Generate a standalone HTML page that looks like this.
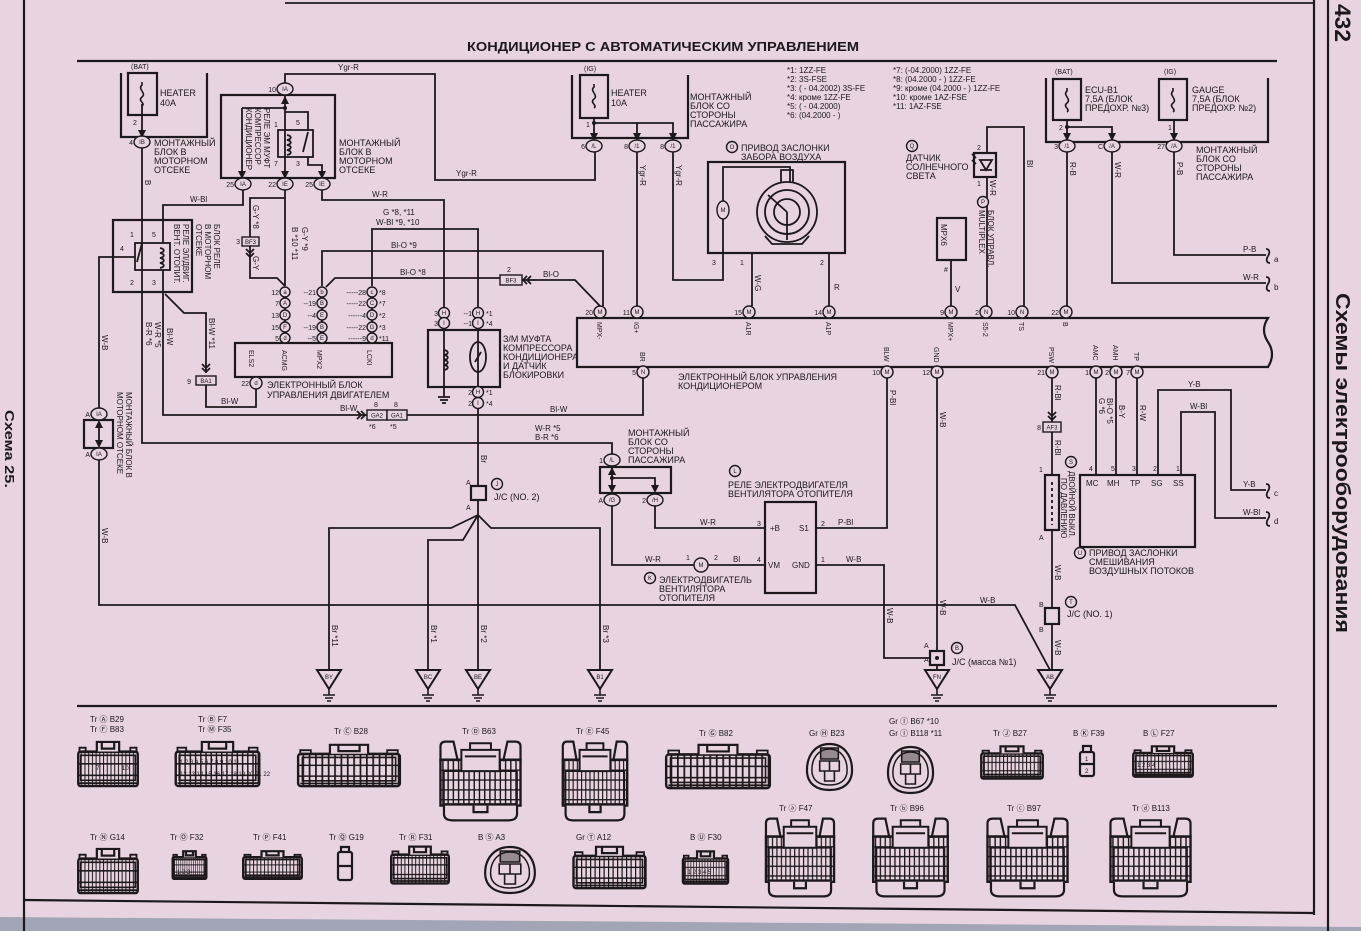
<!DOCTYPE html>
<html><head><meta charset="utf-8">
<style>
html,body{margin:0;padding:0;background:#e8d4e1;}
svg{display:block}
text{font-family:"Liberation Sans","DejaVu Sans",sans-serif;fill:#1d181c}
.f{font-size:9px}
.g{font-size:8px}
.h{font-size:7px}
.k{font-size:6px}
.tb{font-size:13px;font-weight:bold}
.L{stroke:#1d181c;stroke-width:1.8;fill:none}
.B{stroke:#1d181c;stroke-width:2.2;fill:none}
.o{stroke:#1d181c;stroke-width:1.4;fill:#e8d4e1}
.i{fill:#1d181c}
</style></head><body>
<svg width="1361" height="931" viewBox="0 0 1361 931" xmlns="http://www.w3.org/2000/svg">
<defs>
<pattern id="cl" patternUnits="userSpaceOnUse" width="6" height="12"><path d="M0.8,0V12M0,0.8H6" stroke="#1d181c" stroke-width="1.7" fill="none"/></pattern>
<g id="rc">
<rect x="2" y="12" width="96" height="36" rx="3" fill="url(#cl)" stroke="#1d181c" stroke-width="2.4" vector-effect="non-scaling-stroke"/>
<rect x="6" y="16" width="88" height="26" fill="none" stroke="#1d181c" stroke-width="1.6" vector-effect="non-scaling-stroke"/>
<path d="M32,12V2H68V12M40,2V9H60V2" fill="#e8d4e1" stroke="#1d181c" stroke-width="2.2" vector-effect="non-scaling-stroke"/>
<path d="M4,45H96M4,12V8H14V12M86,12V8H96V12" fill="none" stroke="#1d181c" stroke-width="1.8" vector-effect="non-scaling-stroke"/>
</g>
<g id="bc">
<path d="M4,26V8Q4,2 10,2H19L24,26M96,26V8Q96,2 90,2H81L76,26" fill="#e8d4e1" stroke="#1d181c" stroke-width="2.2" vector-effect="non-scaling-stroke"/>
<rect x="4" y="24" width="92" height="56" fill="url(#cl)" stroke="#1d181c" stroke-width="2.4" vector-effect="non-scaling-stroke"/>
<rect x="8" y="38" width="84" height="40" fill="none" stroke="#1d181c" stroke-width="1.6" vector-effect="non-scaling-stroke"/>
<path d="M28,38V12H72V38ZM38,12V4H62V12M32,20H68" fill="#e8d4e1" stroke="#1d181c" stroke-width="2" vector-effect="non-scaling-stroke"/>
<path d="M8,80V90Q8,98 18,98H82Q92,98 92,90V80M42,80V88H58V80" fill="#e8d4e1" stroke="#1d181c" stroke-width="2.2" vector-effect="non-scaling-stroke"/>
</g>
<g id="ov">
<path d="M25,2C40,2 48,14 48,28C48,42 38,48 25,48C12,48 2,42 2,28C2,14 10,2 25,2Z" fill="none" stroke="#1d181c" stroke-width="2.2" vector-effect="non-scaling-stroke"/>
<path d="M25,7C36,7 43,16 43,28C43,39 35,43 25,43C15,43 7,39 7,28C7,16 14,7 25,7Z" fill="none" stroke="#1d181c" stroke-width="1.5" vector-effect="non-scaling-stroke"/>
<rect x="16" y="6" width="18" height="11" fill="#1d181c" fill-opacity="0.4" stroke="#1d181c" stroke-width="1.6" vector-effect="non-scaling-stroke"/>
<path d="M15,19H35V29H15ZM25,19V29M20,29V39H30V29" fill="none" stroke="#1d181c" stroke-width="1.6" vector-effect="non-scaling-stroke"/>
</g>
<g id="gnd">
<polygon points="-12,0 12,0 0,19" fill="#e8d4e1" stroke="#1d181c" stroke-width="2"/>
<path d="M0,19V25M-6,25H6M-4,28H4M-2,31H2" stroke="#1d181c" stroke-width="1.6" fill="none"/>
</g>
<polygon id="ar" points="-4,-7 4,-7 0,1" fill="#1d181c"/>
<path id="fs" d="M0,-12V-9C-5,-5 5,-1 0,3C-5,7 4,9 0,12" fill="none" stroke="#1d181c" stroke-width="1.6"/>
</defs>

<rect width="1361" height="931" fill="#e8d4e1"/>
<polygon points="0,917 1361,927 1361,931 0,931" fill="#a2a5b6"/>

<!-- frame -->
<path d="M24,0V931M1314,0V915M1328,0V931" class="B"/>
<path d="M285,3H1314" class="L"/>
<path d="M77,61H1277" class="B"/>
<path d="M77,706H1277" class="B"/>
<path d="M24,900L1314,913" class="B"/>

<text x="663" y="51" class="tb" text-anchor="middle" textLength="392" lengthAdjust="spacingAndGlyphs">КОНДИЦИОНЕР С АВТОМАТИЧЕСКИМ УПРАВЛЕНИЕМ</text>
<text transform="translate(1335,4) rotate(90)" style="font-size:22px;font-weight:bold" textLength="38" lengthAdjust="spacingAndGlyphs">432</text>
<text transform="translate(1336,293) rotate(90)" style="font-size:20px;font-weight:bold" textLength="340" lengthAdjust="spacingAndGlyphs">Схемы электрооборудования</text>
<text transform="translate(5,410) rotate(90)" style="font-size:13px;font-weight:bold" textLength="78" lengthAdjust="spacingAndGlyphs">Схема 25.</text>

<!-- ============ WIRES ============ -->
<g class="L">
<path d="M142,104V136"/>
<path d="M142,148V443H612V454"/>
<path d="M243,190V205H163V243"/>
<path d="M163,270V415H367"/>
<path d="M407,415H643V378"/>
<path d="M165,294L184,313H206V373"/>
<path d="M206,385V407H256V389"/>
<path d="M135,257H99V408"/>
<path d="M99,460V605H1015L1050,670"/>
<path d="M285,83V74H435V180H595V152"/>
<path d="M285,95V178M285,190V286"/>
<path d="M242,108H285M242,108V173M285,112H308V130M308,157V165H322V173"/>
<path d="M285,198H250V237M250,246V278H277L285,286"/>
<path d="M322,190V200H444V307"/>
<path d="M372,286V229H478V307"/>
<path d="M322,286V251H603V306"/>
<path d="M326,287L335,278H500M522,280H575L600,306"/>
<path d="M285,292V343M322,292V343M372,292V343"/>
<path d="M444,313V397M478,313V486M478,500V670"/>
<path d="M478,515L451,528H329V670"/>
<path d="M478,515L463,540H428V670"/>
<path d="M478,515L491,528H600V670"/>
<path d="M612,466V491M612,478H655V491"/>
<path d="M655,506V528H765M612,506V565H694M708,565H765"/>
<path d="M816,528H887V378M816,565H884V658H930"/>
<path d="M937,378V651M937,665V670"/>
<path d="M1052,378V422M1052,432V475M1052,530V608M1052,624V670"/>
<path d="M1096,378V475M1116,378V475M1137,378V475"/>
<path d="M1158,475V390H1231V490H1266M1181,475V412H1215V518H1266"/>
<path d="M594,118V136M594,123H673V136M637,123V136"/>
<path d="M637,152V306M673,152V280H723V219"/>
<path d="M752,253V306M829,253V306"/>
<path d="M987,153V127H1024V306M987,177V306M951,260V306"/>
<path d="M1067,120V136M1067,127H1112V136M1174,120V136"/>
<path d="M1067,152V306M1112,152V283H1266M1174,152V255H1266"/>
<path d="M1266,249c4,0 4,4 2,7s-2,7 2,7M1266,277c4,0 4,4 2,7s-2,7 2,7M1266,484c4,0 4,4 2,7s-2,7 2,7M1266,512c4,0 4,4 2,7s-2,7 2,7"/>
</g>

<!-- ============ BOXES ============ -->
<g class="B">
<path d="M121,73V137H207V73"/>
<rect x="128" y="73" width="29" height="42"/>
<rect x="221" y="95" width="114" height="83"/>
<rect x="113" y="220" width="79" height="72"/>
<rect x="235" y="343" width="157" height="34"/>
<rect x="428" y="330" width="72" height="57"/>
<rect x="84" y="420" width="29" height="28"/>
<rect x="600" y="467" width="71" height="26"/>
<rect x="765" y="502" width="51" height="91"/>
<path d="M577,318H1268q-8,12 0,24q8,12 0,25H577Z"/>
<path d="M572,75V138H688V75"/>
<rect x="580" y="75" width="28" height="43"/>
<rect x="708" y="162" width="137" height="91"/>
<rect x="937" y="218" width="29" height="42"/>
<rect x="974" y="153" width="22" height="24"/>
<path d="M1046,78V142H1268V78"/>
<rect x="1053" y="79" width="28" height="41"/>
<rect x="1159" y="79" width="28" height="41"/>
<rect x="1045" y="475" width="14" height="55"/>
<rect x="1080" y="475" width="115" height="72"/>
<rect x="471" y="486" width="15" height="14"/>
<rect x="930" y="651" width="14" height="14"/>
<rect x="1045" y="608" width="14" height="16"/>
</g>
<g class="L">
<rect x="278" y="130" width="35" height="27"/>
<rect x="135" y="243" width="35" height="27"/>
<path d="M142,243L137,262M308,132L303,152"/>
<path d="M160,248c5,1 5,4 0,5c5,1 5,4 0,5c5,1 5,4 0,5c5,1 5,4 0,5"/>
<path d="M287,135c5,1 5,4 0,5c5,1 5,4 0,5c5,1 5,4 0,5c5,1 5,4 0,5"/>
<path d="M444,350c5,1 5,4 0,5c5,1 5,4 0,5c5,1 5,4 0,5c5,1 5,4 0,5"/>
<ellipse cx="478" cy="357" rx="8" ry="15"/>
<path d="M475,362L481,352"/>
<path d="M438,397H450M440,400H448M442,403H446"/>
<path d="M99,428V440"/>
<path d="M723,201V167H790V182"/>
<circle cx="787" cy="212" r="30"/><circle cx="787" cy="212" r="22"/><circle cx="787" cy="212" r="13"/>
<path d="M787,212L768,195M787,212V240M781,182V170H793V182M765,236L772,244H802L809,236"/>
<path d="M1052,482V525" stroke-dasharray="3,3"/>
<path d="M980,160L992,160L986,170ZM980,170H992M976,158l-4,-4M976,164l-4,-4"/>
</g>
<ellipse cx="723" cy="210" rx="6" ry="9" class="o"/>
<text x="723" y="212" class="k" text-anchor="middle">M</text>
<circle cx="701" cy="565" r="7" class="o"/>
<text x="701" y="567" class="k" text-anchor="middle">M</text>
<circle cx="937" cy="658" r="2" class="i"/>
<use href="#fs" x="142" y="94"/>
<use href="#fs" x="594" y="96"/>
<use href="#fs" x="1067" y="100"/>
<use href="#fs" x="1173" y="100"/>
<circle cx="594" cy="123" r="2" class="i"/>
<circle cx="1067" cy="127" r="2" class="i"/>
<circle cx="285" cy="108" r="2" class="i"/>
<circle cx="612" cy="478" r="2" class="i"/>

<!-- arrows -->
<use href="#ar" x="142" y="137"/>
<use href="#ar" x="594" y="140"/>
<use href="#ar" x="637" y="140"/>
<use href="#ar" x="673" y="140"/>
<use href="#ar" x="1067" y="140"/>
<use href="#ar" x="1112" y="140"/>
<use href="#ar" x="1174" y="140"/>
<use href="#ar" x="242" y="178"/>
<use href="#ar" x="285" y="178"/>
<use href="#ar" x="322" y="178"/>
<use href="#ar" x="612" y="492"/>
<use href="#ar" x="655" y="492"/>
<use href="#ar" x="99" y="447"/>
<polygon points="281,104 289,104 285,96" class="i"/>
<polygon points="608,475 616,475 612,467" class="i"/>
<polygon points="95,428 103,428 99,420" class="i"/>
<!-- chevrons -->
<g class="L" stroke-width="1.3">
<path d="M246,249l4,4l4,-4M246,253l4,4l4,-4"/>
<path d="M527,276l-4,4l4,4M531,276l-4,4l4,4"/>
<path d="M202,368l4,4l4,-4M202,364l4,4l4,-4"/>
<path d="M357,411l4,4l-4,4M361,411l4,4l-4,4"/>
<path d="M1048,412l4,4l4,-4M1048,416l4,4l4,-4"/>
</g>

<!-- grounds -->
<use href="#gnd" x="329" y="670"/>
<use href="#gnd" x="428" y="670"/>
<use href="#gnd" x="478" y="670"/>
<use href="#gnd" x="600" y="670"/>
<use href="#gnd" x="937" y="670"/>
<use href="#gnd" x="1050" y="670"/>
<g class="k" text-anchor="middle">
<text x="329" y="679">BY</text><text x="428" y="679">BC</text><text x="478" y="679">BE</text>
<text x="600" y="679">B1</text><text x="937" y="679">FN</text><text x="1050" y="679">AB</text>
</g>

<!-- small connector boxes -->
<g class="o" stroke-width="1.6">
<rect x="242" y="237" width="17" height="9"/>
<rect x="500" y="275" width="22" height="10"/>
<rect x="196" y="376" width="20" height="9"/>
<rect x="367" y="410" width="20" height="10"/>
<rect x="387" y="410" width="20" height="10"/>
<rect x="1043" y="422" width="18" height="10"/>
</g>
<g class="k" text-anchor="middle">
<text x="250.5" y="244">BF3</text><text x="511" y="282.5">BF3</text><text x="206" y="383">BA1</text>
<text x="377" y="417.5">GA2</text><text x="397" y="417.5">GA1</text><text x="1052" y="429.5">AF3</text>
</g>

<!-- wire ovals -->
<g class="o">
<ellipse cx="142" cy="142" rx="8" ry="6"/>
<ellipse cx="285" cy="89" rx="8" ry="6"/>
<ellipse cx="243" cy="184" rx="8" ry="6"/>
<ellipse cx="285" cy="184" rx="8" ry="6"/>
<ellipse cx="322" cy="184" rx="8" ry="6"/>
<ellipse cx="99" cy="414" rx="8" ry="6"/>
<ellipse cx="99" cy="454" rx="8" ry="6"/>
<ellipse cx="256" cy="383" rx="6" ry="6"/>
<ellipse cx="612" cy="460" rx="8" ry="6"/>
<ellipse cx="612" cy="500" rx="8" ry="6"/>
<ellipse cx="655" cy="500" rx="8" ry="6"/>
<ellipse cx="594" cy="146" rx="8" ry="6"/>
<ellipse cx="637" cy="146" rx="8" ry="6"/>
<ellipse cx="673" cy="146" rx="8" ry="6"/>
<ellipse cx="1067" cy="146" rx="8" ry="6"/>
<ellipse cx="1112" cy="146" rx="8" ry="6"/>
<ellipse cx="1174" cy="146" rx="8" ry="6"/>
<circle cx="444" cy="313" r="5.5"/><circle cx="478" cy="313" r="5.5"/>
<circle cx="444" cy="323" r="5.5"/><circle cx="478" cy="323" r="5.5"/>
<circle cx="478" cy="392" r="5.5"/><circle cx="478" cy="403" r="5.5"/>
<circle cx="600" cy="312" r="6"/><circle cx="637" cy="312" r="6"/><circle cx="749" cy="312" r="6"/><circle cx="829" cy="312" r="6"/>
<circle cx="951" cy="312" r="6"/><circle cx="986" cy="312" r="6"/><circle cx="1022" cy="312" r="6"/><circle cx="1066" cy="312" r="6"/>
<circle cx="643" cy="372" r="6"/><circle cx="887" cy="372" r="6"/><circle cx="937" cy="372" r="6"/><circle cx="1052" cy="372" r="6"/>
<circle cx="1096" cy="372" r="6"/><circle cx="1116" cy="372" r="6"/><circle cx="1137" cy="372" r="6"/>
</g>
<g class="k" text-anchor="middle">
<text x="142" y="144">IB</text><text x="285" y="91">IA</text><text x="243" y="186">IA</text><text x="285" y="186">IE</text><text x="322" y="186">IE</text>
<text x="99" y="416">IA</text><text x="99" y="456">IA</text><text x="256" y="385">d</text>
<text x="612" y="462">/L</text><text x="612" y="502">/G</text><text x="655" y="502">/H</text>
<text x="594" y="148">/L</text><text x="637" y="148">/1</text><text x="673" y="148">/1</text>
<text x="1067" y="148">/1</text><text x="1112" y="148">/A</text><text x="1174" y="148">/A</text>
<text x="444" y="315">H</text><text x="478" y="315">H</text><text x="444" y="325">I</text><text x="478" y="325">I</text>
<text x="478" y="394">H</text><text x="478" y="405">I</text>
<text x="600" y="314">M</text><text x="637" y="314">M</text><text x="749" y="314">M</text><text x="829" y="314">M</text>
<text x="951" y="314">M</text><text x="986" y="314">N</text><text x="1022" y="314">N</text><text x="1066" y="314">M</text>
<text x="643" y="374">N</text><text x="887" y="374">M</text><text x="937" y="374">M</text><text x="1052" y="374">M</text>
<text x="1096" y="374">M</text><text x="1116" y="374">M</text><text x="1137" y="374">M</text>
</g>
<g class="h" text-anchor="end">
<text x="133" y="145">4</text><text x="276" y="92">10</text><text x="234" y="187">25</text><text x="276" y="187">22</text><text x="313" y="187">25</text>
<text x="90" y="417">A</text><text x="90" y="457">A</text><text x="249" y="386">22</text>
<text x="603" y="463">1</text><text x="603" y="503">A</text><text x="646" y="503">2</text>
<text x="585" y="149">6</text><text x="628" y="149">8</text><text x="664" y="149">8</text>
<text x="1058" y="149">3</text><text x="1103" y="149">C</text><text x="1165" y="149">27</text>
<text x="593" y="315">20</text><text x="630" y="315">11</text><text x="742" y="315">15</text><text x="822" y="315">14</text>
<text x="944" y="315">9</text><text x="979" y="315">2</text><text x="1015" y="315">10</text><text x="1059" y="315">22</text>
<text x="636" y="375">5</text><text x="880" y="375">10</text><text x="930" y="375">12</text><text x="1045" y="375">21</text>
<text x="1089" y="375">1</text><text x="1109" y="375">2</text><text x="1130" y="375">7</text>
<text x="438" y="316">3</text><text x="472" y="316">--1</text><text x="438" y="326">3</text><text x="472" y="326">--1</text>
<text x="472" y="395">2</text><text x="472" y="406">2</text>
<text x="240" y="244">3</text><text x="191" y="384">9</text><text x="1041" y="430">8</text>
</g>
<g class="h">
<text x="486" y="316">*1</text><text x="486" y="326">*4</text><text x="486" y="395">*1</text><text x="486" y="406">*4</text>
<text x="507" y="272">2</text><text x="374" y="407">8</text><text x="394" y="407">8</text><text x="369" y="429">*6</text><text x="390" y="429">*5</text>
</g>

<!-- table rows -->
<g class="o">
<circle cx="285" cy="292" r="5"/><circle cx="322" cy="292" r="5"/><circle cx="372" cy="292" r="5"/>
<circle cx="285" cy="303" r="5"/><circle cx="322" cy="303" r="5"/><circle cx="372" cy="303" r="5"/>
<circle cx="285" cy="315" r="5"/><circle cx="322" cy="315" r="5"/><circle cx="372" cy="315" r="5"/>
<circle cx="285" cy="327" r="5"/><circle cx="322" cy="327" r="5"/><circle cx="372" cy="327" r="5"/>
<circle cx="285" cy="338" r="5"/><circle cx="322" cy="338" r="5"/><circle cx="372" cy="338" r="5"/>
</g>
<g class="k" text-anchor="middle">
<text x="285" y="294">a</text><text x="322" y="294">b</text><text x="372" y="294">c</text>
<text x="285" y="305">A</text><text x="322" y="305">B</text><text x="372" y="305">C</text>
<text x="285" y="317">D</text><text x="322" y="317">E</text><text x="372" y="317">D</text>
<text x="285" y="329">F</text><text x="322" y="329">B</text><text x="372" y="329">G</text>
<text x="285" y="340">d</text><text x="322" y="340">E</text><text x="372" y="340">d</text>
</g>
<g class="h" text-anchor="end">
<text x="279" y="295">12</text><text x="316" y="295">--21</text><text x="366" y="295">-----28</text>
<text x="279" y="306">7</text><text x="316" y="306">--19</text><text x="366" y="306">-----22</text>
<text x="279" y="318">13</text><text x="316" y="318">--4</text><text x="366" y="318">------4</text>
<text x="279" y="330">15</text><text x="316" y="330">--19</text><text x="366" y="330">-----22</text>
<text x="279" y="341">5</text><text x="316" y="341">--5</text><text x="366" y="341">------9</text>
</g>
<g class="h">
<text x="379" y="295">*8</text><text x="379" y="306">*7</text><text x="379" y="318">*2</text><text x="379" y="330">*3</text><text x="379" y="341">*11</text>
</g>

<!-- component circles -->
<g class="o">
<circle cx="497" cy="484" r="5.5"/><circle cx="735" cy="471" r="5.5"/><circle cx="650" cy="578" r="5.5"/>
<circle cx="957" cy="648" r="5.5"/><circle cx="1071" cy="602" r="5.5"/><circle cx="1080" cy="553" r="5.5"/>
<circle cx="732" cy="147" r="5.5"/><circle cx="912" cy="146" r="5.5"/><circle cx="983" cy="202" r="5.5"/>
<circle cx="1071" cy="462" r="5.5"/>
</g>
<g class="k" text-anchor="middle">
<text x="497" y="486">J</text><text x="735" y="473">L</text><text x="650" y="580">K</text>
<text x="957" y="650">B</text><text x="1071" y="604">T</text><text x="1080" y="555">U</text>
<text x="732" y="149">O</text><text x="912" y="148">Q</text><text x="983" y="204">P</text><text x="1071" y="464">S</text>
</g>

<!-- labels -->
<g class="h">
<text x="131" y="69">(BAT)</text><text x="584" y="71">(IG)</text><text x="1055" y="74">(BAT)</text><text x="1164" y="74">(IG)</text>
<text x="133" y="125">2</text><text x="586" y="127">1</text><text x="1059" y="130">2</text><text x="1168" y="130">1</text>
<text x="274" y="127">1</text><text x="296" y="125">5</text><text x="274" y="166">7</text><text x="296" y="166">3</text>
<text x="130" y="237">1</text><text x="152" y="237">5</text><text x="120" y="251">4</text><text x="130" y="285">2</text><text x="152" y="285">3</text>
<text x="712" y="265">3</text><text x="740" y="265">1</text><text x="820" y="265">2</text>
<text x="977" y="150">2</text><text x="977" y="186">1</text><text x="944" y="272">#</text>
<text x="757" y="526">3</text><text x="757" y="562">4</text><text x="821" y="526">2</text><text x="821" y="562">1</text>
<text x="686" y="560">1</text><text x="714" y="560">2</text>
<text x="466" y="485">A</text><text x="466" y="510">A</text>
<text x="924" y="648">A</text><text x="924" y="662">A</text>
<text x="1039" y="472">1</text><text x="1039" y="540">A</text><text x="1039" y="607">B</text><text x="1039" y="632">B</text>
<text x="1089" y="471">4</text><text x="1111" y="471">5</text><text x="1132" y="471">3</text><text x="1153" y="471">2</text><text x="1176" y="471">1</text>
</g>
<g class="g">
<text x="770" y="531">+B</text><text x="799" y="531">S1</text><text x="768" y="568">VM</text><text x="792" y="568">GND</text>
<text x="1086" y="486">MC</text><text x="1107" y="486">MH</text><text x="1130" y="486">TP</text><text x="1151" y="486">SG</text><text x="1173" y="486">SS</text>
</g>
<g class="f">
<text x="160" y="96">HEATER</text><text x="160" y="106">40A</text>
<text x="611" y="96">HEATER</text><text x="611" y="106">10A</text>
<text x="1085" y="93">ECU-B1</text><text x="1085" y="102">7,5A (БЛОК</text><text x="1085" y="111">ПРЕДОХР. №3)</text>
<text x="1192" y="93">GAUGE</text><text x="1192" y="102">7,5A (БЛОК</text><text x="1192" y="111">ПРЕДОХР. №2)</text>
<text x="154" y="146">МОНТАЖНЫЙ</text><text x="154" y="155">БЛОК В</text><text x="154" y="164">МОТОРНОМ</text><text x="154" y="173">ОТСЕКЕ</text>
<text x="339" y="146">МОНТАЖНЫЙ</text><text x="339" y="155">БЛОК В</text><text x="339" y="164">МОТОРНОМ</text><text x="339" y="173">ОТСЕКЕ</text>
<text x="690" y="100">МОНТАЖНЫЙ</text><text x="690" y="109">БЛОК СО</text><text x="690" y="118">СТОРОНЫ</text><text x="690" y="127">ПАССАЖИРА</text>
<text x="1196" y="153">МОНТАЖНЫЙ</text><text x="1196" y="162">БЛОК СО</text><text x="1196" y="171">СТОРОНЫ</text><text x="1196" y="180">ПАССАЖИРА</text>
<text x="628" y="436">МОНТАЖНЫЙ</text><text x="628" y="445">БЛОК СО</text><text x="628" y="454">СТОРОНЫ</text><text x="628" y="463">ПАССАЖИРА</text>
<text x="741" y="151">ПРИВОД ЗАСЛОНКИ</text><text x="741" y="160">ЗАБОРА ВОЗДУХА</text>
<text x="906" y="161">ДАТЧИК</text><text x="906" y="170">СОЛНЕЧНОГО</text><text x="906" y="179">СВЕТА</text>
<text x="503" y="342">З/М МУФТА</text><text x="503" y="351">КОМПРЕССОРА</text><text x="503" y="360">КОНДИЦИОНЕРА</text><text x="503" y="369">И ДАТЧИК</text><text x="503" y="378">БЛОКИРОВКИ</text>
<text x="267" y="388">ЭЛЕКТРОННЫЙ БЛОК</text><text x="267" y="398">УПРАВЛЕНИЯ ДВИГАТЕЛЕМ</text>
<text x="678" y="380">ЭЛЕКТРОННЫЙ БЛОК УПРАВЛЕНИЯ</text><text x="678" y="389">КОНДИЦИОНЕРОМ</text>
<text x="728" y="488">РЕЛЕ ЭЛЕКТРОДВИГАТЕЛЯ</text><text x="728" y="497">ВЕНТИЛЯТОРА ОТОПИТЕЛЯ</text>
<text x="659" y="583">ЭЛЕКТРОДВИГАТЕЛЬ</text><text x="659" y="592">ВЕНТИЛЯТОРА</text><text x="659" y="601">ОТОПИТЕЛЯ</text>
<text x="1089" y="556">ПРИВОД ЗАСЛОНКИ</text><text x="1089" y="565">СМЕШИВАНИЯ</text><text x="1089" y="574">ВОЗДУШНЫХ ПОТОКОВ</text>
<text x="494" y="500">J/C (NO. 2)</text><text x="1067" y="617">J/C (NO. 1)</text><text x="952" y="665">J/C (масса №1)</text>
</g>
<g class="g">
<text x="787" y="73">*1: 1ZZ-FE</text><text x="787" y="82">*2: 3S-FSE</text><text x="787" y="91">*3: ( - 04.2002) 3S-FE</text>
<text x="787" y="100">*4: кроме 1ZZ-FE</text><text x="787" y="109">*5: ( - 04.2000)</text><text x="787" y="118">*6: (04.2000 - )</text>
<text x="893" y="73">*7: (-04.2000) 1ZZ-FE</text><text x="893" y="82">*8: (04.2000 - ) 1ZZ-FE</text><text x="893" y="91">*9: кроме (04.2000 - ) 1ZZ-FE</text>
<text x="893" y="100">*10: кроме 1AZ-FSE</text><text x="893" y="109">*11: 1AZ-FSE</text>
<text x="338" y="70">Ygr-R</text><text x="456" y="176">Ygr-R</text><text x="190" y="202">W-Bl</text><text x="372" y="197">W-R</text>
<text x="383" y="215">G    *8, *11</text><text x="376" y="225">W-Bl *9, *10</text>
<text x="391" y="248">Bl-O *9</text><text x="400" y="275">Bl-O *8</text><text x="543" y="277">Bl-O</text>
<text x="221" y="404">Bl-W</text><text x="340" y="411">Bl-W</text><text x="550" y="412">Bl-W</text>
<text x="535" y="431">W-R  *5</text><text x="535" y="440">B-R  *6</text>
<text x="700" y="525">W-R</text><text x="645" y="562">W-R</text><text x="733" y="562">Bl</text>
<text x="838" y="525">P-Bl</text><text x="846" y="562">W-B</text><text x="980" y="603">W-B</text>
<text x="1188" y="387">Y-B</text><text x="1190" y="409">W-Bl</text><text x="1243" y="487">Y-B</text><text x="1243" y="515">W-Bl</text>
<text x="1243" y="252">P-B</text><text x="1243" y="280">W-R</text>
<text x="1274" y="262">a</text><text x="1274" y="290">b</text><text x="1274" y="496">c</text><text x="1274" y="524">d</text>
<text x="955" y="292">V</text><text x="834" y="290">R</text>
</g>

<!-- rotated labels -->
<g class="g">
<text transform="translate(145,180) rotate(90)">B</text>
<text transform="translate(264,108) rotate(90)">РЕЛЕ ЭМ МУФТ</text>
<text transform="translate(255,108) rotate(90)">КОМПРЕССОР</text>
<text transform="translate(246,108) rotate(90)">КОНДИЦИОНЕР</text>
<text transform="translate(183,224) rotate(90)">РЕЛЕ ЭЛ/ДВИГ.</text>
<text transform="translate(174,224) rotate(90)">ВЕНТ. ОТОПИТ.</text>
<text transform="translate(214,224) rotate(90)">БЛОК РЕЛЕ</text>
<text transform="translate(205,224) rotate(90)">В МОТОРНОМ</text>
<text transform="translate(196,224) rotate(90)">ОТСЕКЕ</text>
<text transform="translate(253,205) rotate(90)">G-Y *8</text>
<text transform="translate(253,256) rotate(90)">G-Y</text>
<text transform="translate(302,227) rotate(90)">G-Y  *9</text>
<text transform="translate(292,227) rotate(90)">B  *10 *11</text>
<text transform="translate(155,322) rotate(90)">W-R *5</text>
<text transform="translate(146,322) rotate(90)">B-R *6</text>
<text transform="translate(167,328) rotate(90)">Bl-W</text>
<text transform="translate(209,318) rotate(90)">Bl-W *11</text>
<text transform="translate(102,335) rotate(90)">W-B</text>
<text transform="translate(102,528) rotate(90)">W-B</text>
<text transform="translate(126,392) rotate(90)">МОНТАЖНЫЙ БЛОК В</text>
<text transform="translate(117,392) rotate(90)">МОТОРНОМ ОТСЕКЕ</text>
<text transform="translate(481,455) rotate(90)">Br</text>
<text transform="translate(332,625) rotate(90)">Br *11</text>
<text transform="translate(431,625) rotate(90)">Br *1</text>
<text transform="translate(481,625) rotate(90)">Br *2</text>
<text transform="translate(603,625) rotate(90)">Br *3</text>
<text transform="translate(640,165) rotate(90)">Ygr-R</text>
<text transform="translate(676,165) rotate(90)">Ygr-R</text>
<text transform="translate(755,275) rotate(90)">W-G</text>
<text transform="translate(990,180) rotate(90)">W-R</text>
<text transform="translate(1027,160) rotate(90)">Bl</text>
<text transform="translate(941,224) rotate(90)">MPX6</text>
<text transform="translate(988,210) rotate(90)">БЛОК УПРАВЛ.</text>
<text transform="translate(979,210) rotate(90)">MULTIPLEX</text>
<text transform="translate(1070,162) rotate(90)">R-B</text>
<text transform="translate(1115,162) rotate(90)">W-R</text>
<text transform="translate(1177,162) rotate(90)">P-B</text>
<text transform="translate(890,390) rotate(90)">P-Bl</text>
<text transform="translate(940,412) rotate(90)">W-B</text>
<text transform="translate(940,600) rotate(90)">W-B</text>
<text transform="translate(887,608) rotate(90)">W-B</text>
<text transform="translate(1055,385) rotate(90)">R-Bl</text>
<text transform="translate(1055,440) rotate(90)">R-Bl</text>
<text transform="translate(1055,565) rotate(90)">W-B</text>
<text transform="translate(1055,640) rotate(90)">W-B</text>
<text transform="translate(1069,471) rotate(90)">ДВОЙНОЙ ВЫКЛ.</text>
<text transform="translate(1061,478) rotate(90)">ПО ДАВЛЕНИЮ</text>
<text transform="translate(1107,398) rotate(90)">Bl-O *5</text>
<text transform="translate(1099,398) rotate(90)">G    *6</text>
<text transform="translate(1119,405) rotate(90)">B-Y</text>
<text transform="translate(1140,405) rotate(90)">R-W</text>
</g>
<g class="h">
<text transform="translate(249,350) rotate(90)">ELS2</text>
<text transform="translate(282,350) rotate(90)">ACMG</text>
<text transform="translate(317,350) rotate(90)">MPX2</text>
<text transform="translate(367,350) rotate(90)">LCKI</text>
<text transform="translate(597,322) rotate(90)">MPX-</text>
<text transform="translate(634,322) rotate(90)">IG+</text>
<text transform="translate(746,322) rotate(90)">A1R</text>
<text transform="translate(826,322) rotate(90)">A1P</text>
<text transform="translate(948,322) rotate(90)">MPX+</text>
<text transform="translate(983,322) rotate(90)">S5-2</text>
<text transform="translate(1019,322) rotate(90)">TS</text>
<text transform="translate(1063,322) rotate(90)">B</text>
<text transform="translate(640,352) rotate(90)">BR</text>
<text transform="translate(884,347) rotate(90)">BLW</text>
<text transform="translate(934,347) rotate(90)">GND</text>
<text transform="translate(1049,347) rotate(90)">PSW</text>
<text transform="translate(1093,345) rotate(90)">AMC</text>
<text transform="translate(1113,345) rotate(90)">AMH</text>
<text transform="translate(1134,352) rotate(90)">TP</text>
</g>

<!-- ============ CONNECTOR PICTURES ============ -->
<use href="#rc" transform="translate(77,740) scale(0.62,0.96)"/>
<use href="#rc" transform="translate(174,740) scale(0.87,0.96)"/>
<use href="#rc" transform="translate(296,743) scale(1.06,0.9)"/>
<use href="#bc" transform="translate(437,740) scale(0.87,0.82)"/>
<use href="#bc" transform="translate(560,740) scale(0.70,0.82)"/>
<use href="#rc" transform="translate(664,743) scale(1.08,0.94)"/>
<use href="#ov" transform="translate(805,742) scale(0.98,1)"/>
<use href="#ov" transform="translate(886,745) scale(0.98,1)"/>
<use href="#rc" transform="translate(980,745) scale(0.64,0.7)"/>
<use href="#rc" transform="translate(1132,745) scale(0.62,0.66)"/>
<use href="#rc" transform="translate(77,847) scale(0.62,0.96)"/>
<use href="#rc" transform="translate(172,850) scale(0.35,0.6)"/>
<use href="#rc" transform="translate(242,850) scale(0.61,0.6)"/>
<use href="#rc" transform="translate(390,845) scale(0.60,0.8)"/>
<use href="#ov" transform="translate(483,845) scale(1.08,1)"/>
<use href="#rc" transform="translate(572,845) scale(0.75,0.9)"/>
<use href="#rc" transform="translate(682,850) scale(0.47,0.7)"/>
<use href="#bc" transform="translate(763,817) scale(0.74,0.81)"/>
<use href="#bc" transform="translate(870,817) scale(0.81,0.81)"/>
<use href="#bc" transform="translate(984,817) scale(0.87,0.81)"/>
<use href="#bc" transform="translate(1107,817) scale(0.87,0.81)"/>
<g class="B">
<rect x="1080" y="752" width="14" height="24" rx="2"/>
<path d="M1083,752V746H1091V752M1080,764H1094"/>
<rect x="338" y="852" width="14" height="28" rx="2"/>
<path d="M341,852V847H349V852M338,866H352"/>
</g>
<g class="k">
<text x="96" y="770">7</text><text x="122" y="770">10</text>
<text x="180" y="764">1 2 3 4 5 6 7 8 9 10 11</text>
<text x="180" y="776">12 13 14 15 16 17 18 19 20 21 22</text>
<text x="1137" y="767">1 2 3 4</text><text x="688" y="874">1 2 3 4 5</text>
<text x="177" y="874">1 2 3</text><text x="1085" y="761">1</text><text x="1085" y="773">2</text>
</g>

<!-- connector labels -->
<g class="g">
<text x="90" y="722">Tr Ⓐ B29</text><text x="90" y="732">Tr Ⓕ B83</text>
<text x="198" y="722">Tr Ⓑ F7</text><text x="198" y="732">Tr Ⓜ F35</text>
<text x="334" y="734">Tr Ⓒ B28</text>
<text x="462" y="734">Tr Ⓓ B63</text>
<text x="576" y="734">Tr Ⓔ F45</text>
<text x="699" y="736">Tr Ⓖ B82</text>
<text x="809" y="736">Gr Ⓗ B23</text>
<text x="889" y="724">Gr Ⓘ B67 *10</text><text x="889" y="736">Gr Ⓘ B118 *11</text>
<text x="993" y="736">Tr Ⓙ B27</text>
<text x="1073" y="736">B Ⓚ F39</text>
<text x="1143" y="736">B Ⓛ F27</text>
<text x="90" y="840">Tr Ⓝ G14</text>
<text x="170" y="840">Tr Ⓞ F32</text>
<text x="253" y="840">Tr Ⓟ F41</text>
<text x="329" y="840">Tr Ⓠ G19</text>
<text x="399" y="840">Tr Ⓡ F31</text>
<text x="478" y="840">B Ⓢ A3</text>
<text x="576" y="840">Gr Ⓣ A12</text>
<text x="690" y="840">B Ⓤ F30</text>
<text x="779" y="811">Tr ⓐ F47</text>
<text x="890" y="811">Tr ⓑ B96</text>
<text x="1007" y="811">Tr ⓒ B97</text>
<text x="1132" y="811">Tr ⓓ B113</text>
</g>
</svg>
</body></html>
